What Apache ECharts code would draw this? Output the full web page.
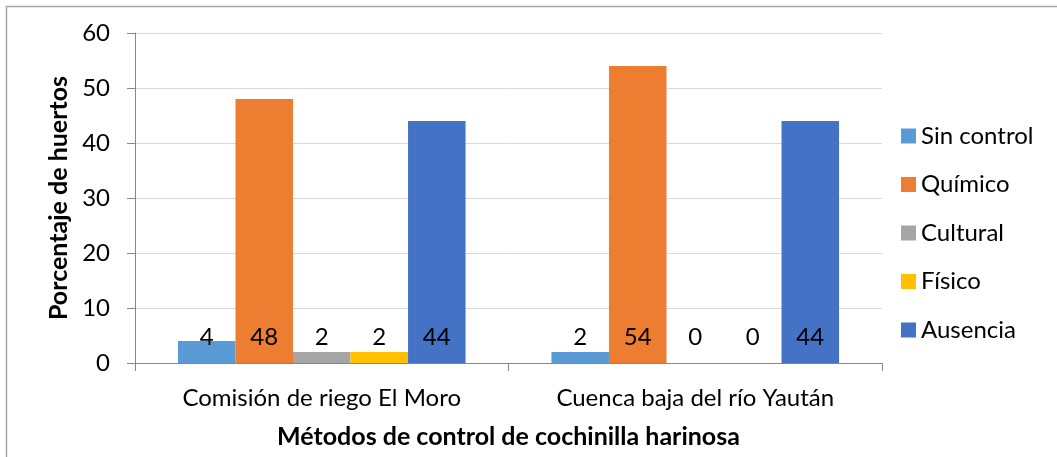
<!DOCTYPE html>
<html>
<head>
<meta charset="utf-8">
<script src="https://cdn.jsdelivr.net/npm/echarts@6/dist/echarts.min.js"></script>
<style>
  html, body { margin: 0; padding: 0; background: #fff; }
  #chart { width: 1057px; height: 457px; }
</style>
</head>
<body>
<div id="chart"></div>
<script>
// datos
var categorias = ['Comisión de riego El Moro', 'Cuenca baja del río Yaután'];
var sinControl = [4, 2];
var quimico = [48, 54];
var cultural = [2, 0];
var fisico = [2, 0];
var ausencia = [44, 44];

var nombres = ['Sin control', 'Químico', 'Cultural', 'Físico', 'Ausencia'];
var valores = [sinControl, quimico, cultural, fisico, ausencia];
var colores = ['#5B9BD5', '#ED7D31', '#A5A5A5', '#FFC000', '#4472C4'];

var fuente = 'Lato';

var series = [];
for (var i = 0; i < nombres.length; i++) {
    series.push({
        name: nombres[i],
        type: 'bar',
        data: valores[i],
        barGap: '0%',
        barCategoryGap: '23%',
        itemStyle: { color: colores[i] },
        label: {
            show: true,
            position: 'insideBottom',
            distance: 14,
            color: '#000',
            fontSize: 24,
            fontFamily: fuente
        }
    });
}

var myChart = echarts.init(document.getElementById('chart'));

var option = {
    animation: false,
    textStyle: { fontFamily: fuente },
    graphic: [{
        type: 'rect',
        shape: { x: 6.5, y: 6.5, width: 1200, height: 600 },
        style: { fill: 'none', stroke: '#a6a6a6', lineWidth: 1.5 },
        silent: true
    }],
    grid: { left: 135, top: 33, right: 175, bottom: 94 },
    legend: {
        orient: 'vertical',
        left: 896,
        top: 119,
        itemWidth: 15,
        itemHeight: 15,
        itemGap: 24.5,
        icon: 'rect',
        textStyle: { fontSize: 24, color: '#000', fontFamily: fuente },
        data: nombres
    },
    xAxis: {
        type: 'category',
        data: categorias,
        name: 'Métodos de control de cochinilla harinosa',
        nameLocation: 'middle',
        nameGap: 61,
        nameTextStyle: { fontSize: 25, fontWeight: 'bold', color: '#000', fontFamily: fuente },
        axisLine: { lineStyle: { color: '#868686', width: 1 } },
        axisTick: { show: true, length: 8, lineStyle: { color: '#868686' } },
        axisLabel: { fontSize: 24, color: '#000', margin: 23, fontFamily: fuente }
    },
    yAxis: {
        type: 'value',
        min: 0,
        max: 60,
        interval: 10,
        name: 'Porcentaje de huertos',
        nameLocation: 'middle',
        nameGap: 62,
        nameTextStyle: { fontSize: 25, fontWeight: 'bold', color: '#000', fontFamily: fuente },
        axisLine: { show: true, lineStyle: { color: '#868686', width: 1 } },
        axisTick: { show: true, length: 8, lineStyle: { color: '#868686' } },
        axisLabel: { fontSize: 24, color: '#000', margin: 25, fontFamily: fuente },
        splitLine: { lineStyle: { color: '#D9D9D9', width: 1 } }
    },
    series: series
};

myChart.setOption(option);
</script>
</body>
</html>
